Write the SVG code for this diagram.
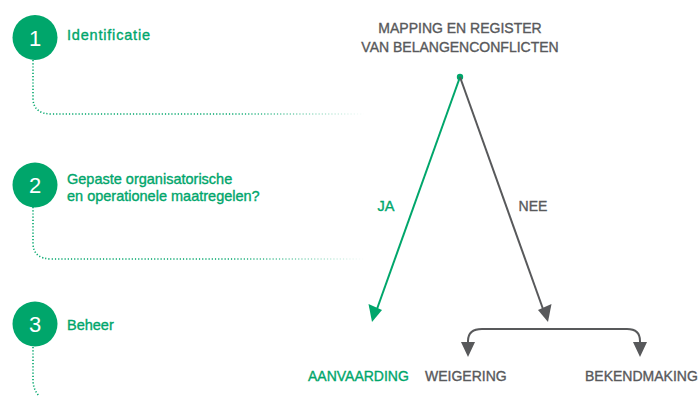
<svg xmlns="http://www.w3.org/2000/svg" width="700" height="396" viewBox="0 0 700 396">
<style>
.g{fill:#00a66b}
.gt{fill:#00a66b;stroke:#00a66b;stroke-width:0.35;font-family:"Liberation Sans",Arial,sans-serif;font-size:14.5px}
.gr{fill:#58595b;stroke:#58595b;stroke-width:0.35;font-family:"Liberation Sans",Arial,sans-serif;font-size:14px}
.num{fill:#fff;font-family:"Liberation Sans",Arial,sans-serif;font-size:22px;text-anchor:middle}
.dot{fill:none;stroke:url(#fade);stroke-width:1.6;stroke-dasharray:1.2 2}
.dotv{fill:none;stroke:#00a66b;stroke-width:1.6;stroke-dasharray:1.2 2}
</style>
<defs>
<linearGradient id="fade" gradientUnits="userSpaceOnUse" x1="30" y1="0" x2="365" y2="0">
<stop offset="0" stop-color="#00a66b"/>
<stop offset="0.6" stop-color="#00a66b"/>
<stop offset="1" stop-color="#00a66b" stop-opacity="0"/>
</linearGradient>
</defs>
<g id="step1">
<circle cx="35" cy="37.5" r="22.5" class="g"/>
<text x="35" y="45.5" class="num">1</text>
<text x="67" y="40" class="gt" textLength="83" lengthAdjust="spacing">Identificatie</text>
<path d="M33,60 V98 Q33,114 52,114 H365" class="dot"/>
</g>
<g id="step2">
<circle cx="35" cy="185" r="22.5" class="g"/>
<text x="35" y="193" class="num">2</text>
<text x="67" y="184" class="gt">Gepaste organisatorische</text>
<text x="67" y="201" class="gt">en operationele maatregelen?</text>
<path d="M33,207 V243 Q33,259 52,259 H365" class="dot"/>
</g>
<g id="step3">
<circle cx="35" cy="324" r="22.5" class="g"/>
<text x="35" y="332" class="num">3</text>
<text x="67" y="330" class="gt">Beheer</text>
<path d="M33,347 V380 Q33,390 40,397" class="dotv"/>
</g>
<g id="title">
<text x="460" y="33" class="gr" text-anchor="middle">MAPPING EN REGISTER</text>
<text x="460" y="52" class="gr" text-anchor="middle">VAN BELANGENCONFLICTEN</text>
</g>
<g id="connectors">
<circle cx="460" cy="77" r="3.2" fill="#00a66b"/>
<line x1="460" y1="77" x2="377" y2="309" stroke="#00a66b" stroke-width="2"/>
<path d="M368.5,304 L382,310 L372,322 Z" fill="#00a66b"/>
<line x1="460" y1="77" x2="543" y2="309" stroke="#58595b" stroke-width="2"/>
<path d="M538,310 L551.5,304 L548,322 Z" fill="#58595b"/>
<path d="M468,344 V341 Q468,329 482,329 H627 Q640,329 640,341 V344" fill="none" stroke="#58595b" stroke-width="2"/>
<path d="M461,342 L475,342 L468,357 Z" fill="#58595b"/>
<path d="M633,342 L647,342 L640,357 Z" fill="#58595b"/>
<text x="386" y="211" class="gt" text-anchor="middle">JA</text>
<text x="533" y="211" class="gr" text-anchor="middle">NEE</text>
</g>
<g id="outcomes">
<text x="308" y="381" class="gt" style="font-size:14px">AANVAARDING</text>
<text x="425" y="381" class="gr">WEIGERING</text>
<text x="585" y="381" class="gr">BEKENDMAKING</text>
</g>
</svg>
